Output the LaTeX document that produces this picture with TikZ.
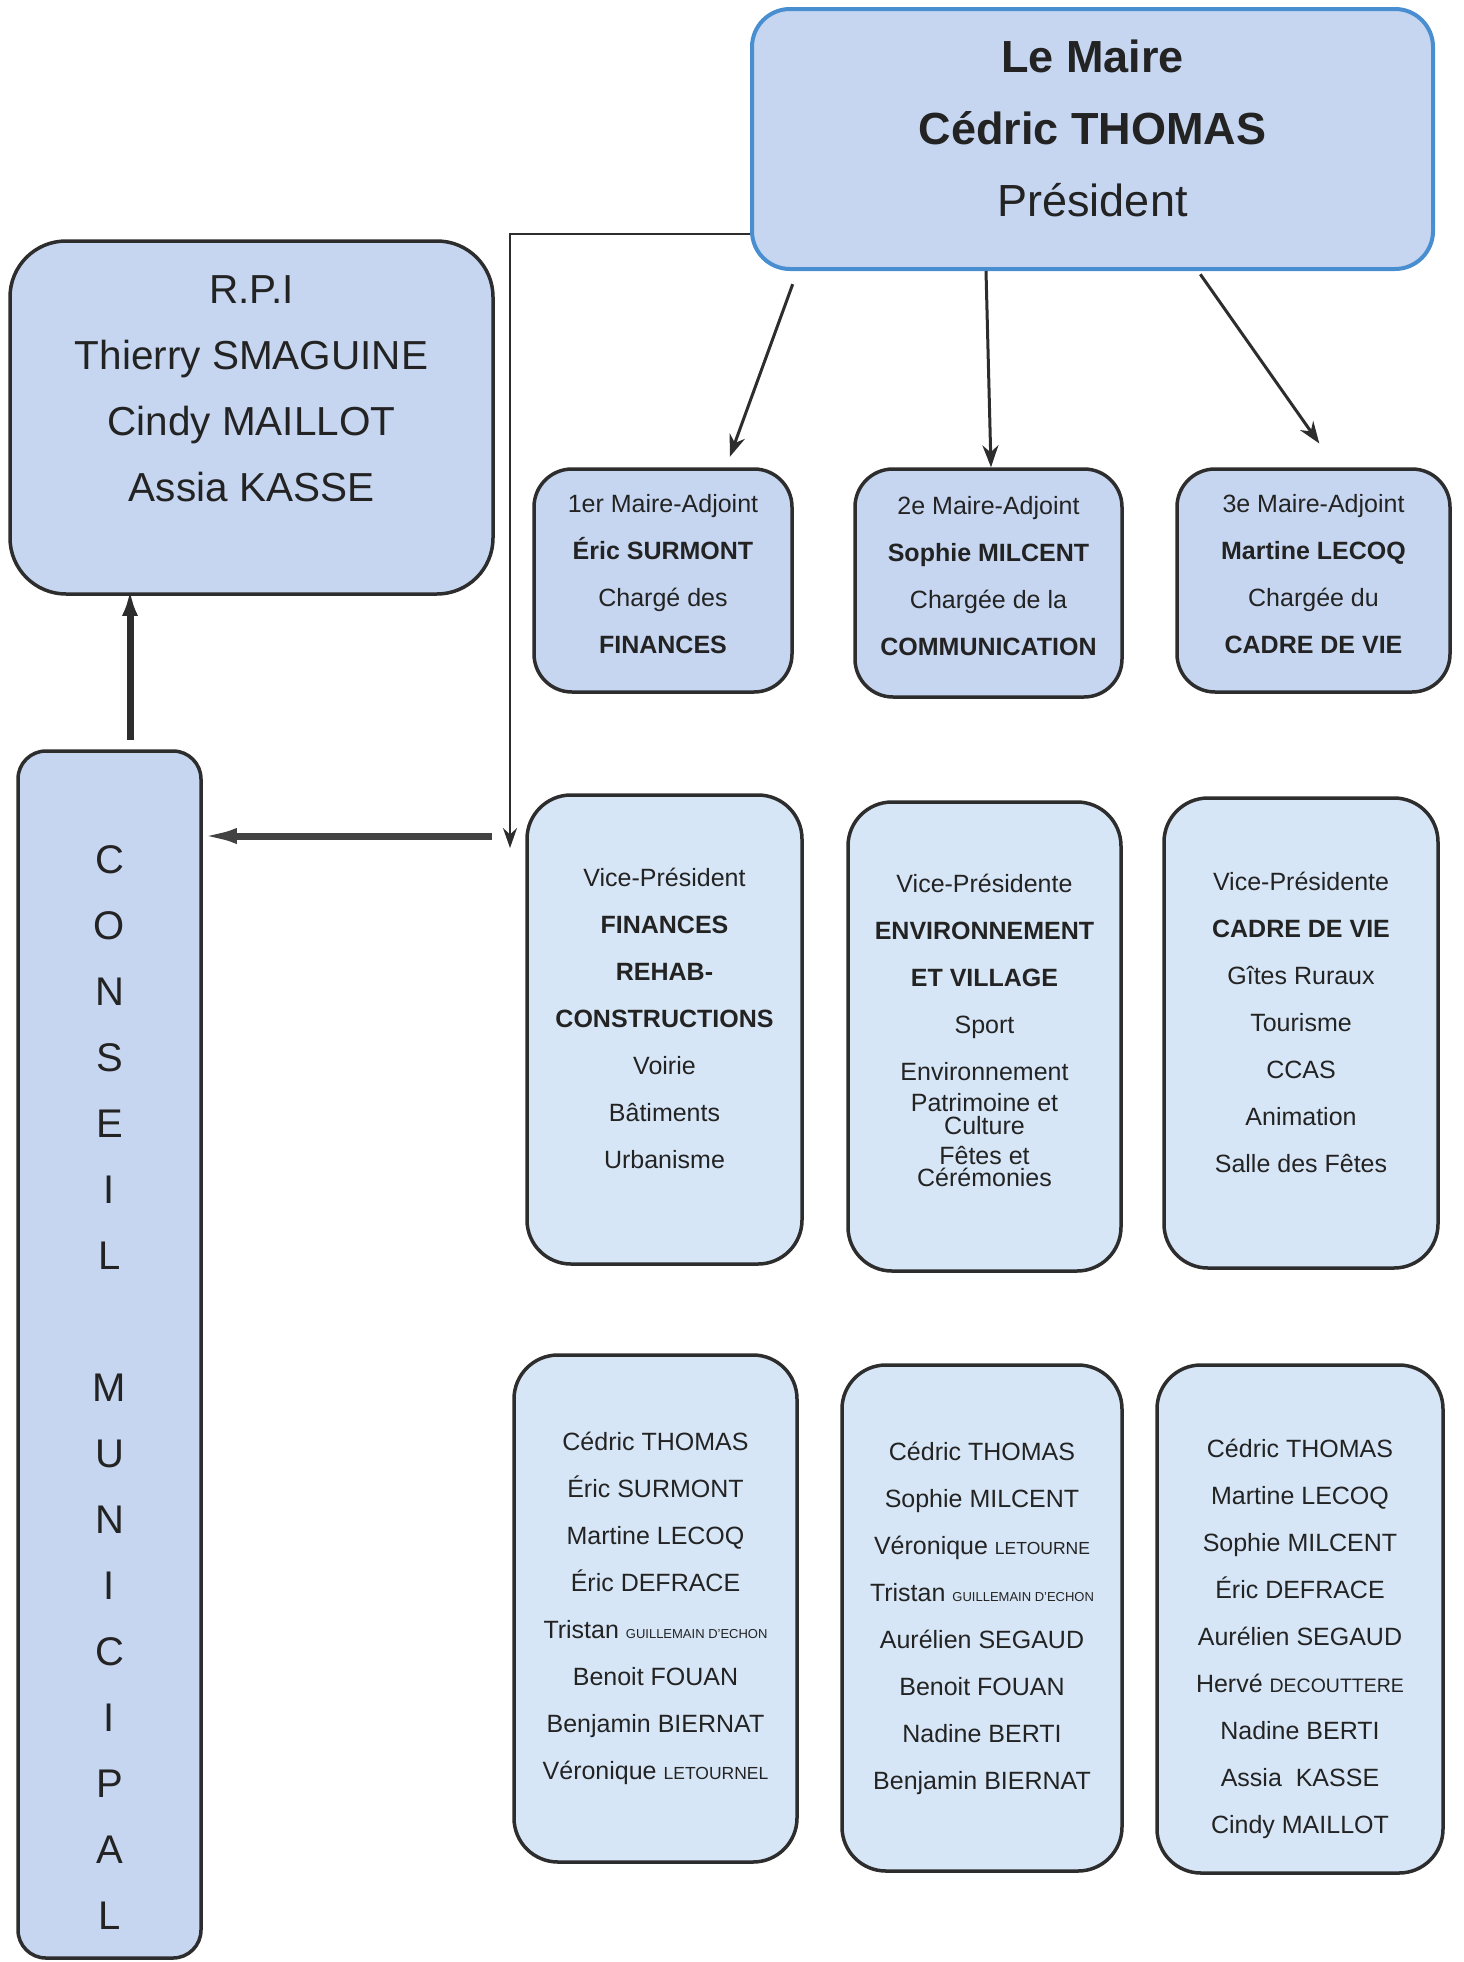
\documentclass[tikz,border=0pt]{standalone}
\usepackage{fontspec}
\setmainfont{Liberation Sans}
\usepackage{tikz}
\usetikzlibrary{arrows.meta}
\definecolor{bleuboite}{RGB}{198,214,240}
\definecolor{bleupale}{RGB}{215,230,246}
\definecolor{bleubord}{RGB}{72,142,208}
\definecolor{grisbord}{RGB}{45,45,45}
\definecolor{encre}{RGB}{35,35,35}
\newcommand{\petitnom}[2][17.5]{{\fontsize{#1}{#1}\selectfont #2}}
\newcommand{\mininom}[1]{{\fontsize{13}{13}\selectfont #1}}

\begin{document}
\begin{tikzpicture}[
    x=1pt, y=-1pt,
    boite/.style={rectangle, draw=grisbord, line width=3.5pt, fill=bleuboite, align=center, text=encre, inner sep=0pt},
    maireboite/.style={boite, draw=bleubord, line width=4pt, rounded corners=38pt, font=\fontsize{45}{72}\selectfont},
    rpiboite/.style={boite, rounded corners=56pt, font=\fontsize{40.5}{66}\selectfont},
    conseilboite/.style={boite, rounded corners=28pt, font=\fontsize{40}{66}\selectfont},
    adjboite/.style={boite, rounded corners=38pt, font=\fontsize{25}{47}\selectfont, text depth=14pt},
    vpboite/.style={boite, fill=bleupale, rounded corners=44pt, font=\fontsize{25}{47}\selectfont, text depth=22pt},
    membres/.style={boite, fill=bleupale, rounded corners=44pt, font=\fontsize{25}{47}\selectfont},
    fleche/.style={-{Stealth[length=22pt,width=16pt]}, line width=3pt, draw=grisbord},
    filet/.style={-{Stealth[length=20pt,width=14pt]}, line width=2.5pt, draw=grisbord},
    grosse/.style={-{Latex[length=44pt,width=15pt]}, line width=7pt, draw=grisbord!90},
    montante/.style={-{Latex[length=26pt,width=16pt]}, line width=7pt, draw=grisbord}
]
    \useasboundingbox (0,0) rectangle (1464,1962);

    % Le maire
    \node[maireboite, minimum width=681pt, minimum height=260pt, text depth=22pt] (maire) at (1092.5,139)
        {\textbf{Le Maire}\\ \textbf{Cédric THOMAS}\\ Président};

    % R.P.I et conseil
    \node[rpiboite, minimum width=483pt, minimum height=353pt, text depth=58pt] (rpi) at (251.5,417.5)
        {R.P.I\\ Thierry SMAGUINE\\ Cindy MAILLOT\\ Assia KASSE};
    \node[conseilboite, minimum width=183pt, minimum height=1207pt, text height=1149pt] (conseil) at (109.5,1354.5)
        {C\\ O\\ N\\ S\\ E\\ I\\ L\\[66pt] M\\ U\\ N\\ I\\ C\\ I\\ P\\ A\\ L};

    % Maires-adjoints
    \node[adjboite, minimum width=258pt, minimum height=223pt] (adj1) at (663,580.5)
        {1er Maire-Adjoint\\ \textbf{Éric SURMONT}\\ Chargé des\\ \textbf{FINANCES}};
    \node[adjboite, minimum width=267pt, minimum height=228pt] (adj2) at (988.5,583)
        {2e Maire-Adjoint\\ \textbf{Sophie MILCENT}\\ Chargée de la\\ \textbf{COMMUNICATION}};
    \node[adjboite, minimum width=273pt, minimum height=223pt] (adj3) at (1313.5,580.5)
        {3e Maire-Adjoint\\ \textbf{Martine LECOQ}\\ Chargée du\\ \textbf{CADRE DE VIE}};

    % Vice-presidences
    \node[vpboite, minimum width=275pt, minimum height=469pt] (vp1) at (664.5,1029.5)
        {Vice-Président\\ \textbf{FINANCES}\\ \textbf{REHAB-}\\ \textbf{CONSTRUCTIONS}\\ Voirie\\ Bâtiments\\ Urbanisme};
    \node[vpboite, minimum width=273pt, minimum height=469pt, text depth=12pt] (vp2) at (984.5,1036.5)
        {Vice-Présidente\\ \textbf{ENVIRONNEMENT}\\ \textbf{ET VILLAGE}\\ Sport\\ Environnement\\[-16pt]
         Patrimoine et\\[-24.5pt] Culture\\[-17pt] Fêtes et\\[-24.5pt] Cérémonies};
    \node[vpboite, minimum width=274pt, minimum height=470pt] (vp3) at (1301,1033)
        {Vice-Présidente\\ \textbf{CADRE DE VIE}\\ Gîtes Ruraux\\ Tourisme\\ CCAS\\ Animation\\ Salle des Fêtes};

    % Membres des commissions
    \node[membres, minimum width=283pt, minimum height=507pt] (mem1) at (655.5,1608.5)
        {Cédric THOMAS\\ Éric SURMONT\\ Martine LECOQ\\ Éric DEFRACE\\ Tristan \mininom{GUILLEMAIN D'ECHON}\\
         Benoit FOUAN\\ Benjamin BIERNAT\\ Véronique \petitnom{LETOURNEL}};
    \node[membres, minimum width=280pt, minimum height=506pt] (mem2) at (982,1618)
        {Cédric THOMAS\\ Sophie MILCENT\\ Véronique \petitnom{LETOURNE}\\ Tristan \mininom{GUILLEMAIN D'ECHON}\\
         Aurélien SEGAUD\\ Benoit FOUAN\\ Nadine BERTI\\ Benjamin BIERNAT};
    \node[membres, minimum width=286pt, minimum height=508pt, text height=434pt] (mem3) at (1300,1619)
        {Cédric THOMAS\\ Martine LECOQ\\ Sophie MILCENT\\ Éric DEFRACE\\ Aurélien SEGAUD\\
         Hervé \petitnom[19.5]{DECOUTTERE}\\ Nadine BERTI\\ Assia~~KASSE\\ Cindy MAILLOT};

    % Liaisons
    \coordinate (jonction) at (510,848);
    \coordinate (depart) at (492,836);
    \coordinate (pied) at ([xshift=20.5pt]conseil.north);

    \draw[fleche, shorten >=11pt, shorten <=14pt] ([xshift=47.5pt]maire.south west) -- ([xshift=63pt]adj1.north);
    \draw[fleche] ([xshift=-106.5pt]maire.south) -- ([xshift=2.5pt]adj2.north);
    \draw[fleche, shorten >=29pt, shorten <=4pt] ([xshift=105.5pt]maire.south) -- ([xshift=22.5pt]adj3.north);
    \draw[filet] ([yshift=-95pt]maire.west) -| (jonction);
    \draw[grosse, shorten >=-10pt] (depart) -- (depart -| conseil.east);
    \draw[montante, shorten <=9pt, shorten >=-6pt] (pied) -- (pied |- rpi.south);

\end{tikzpicture}
\end{document}
